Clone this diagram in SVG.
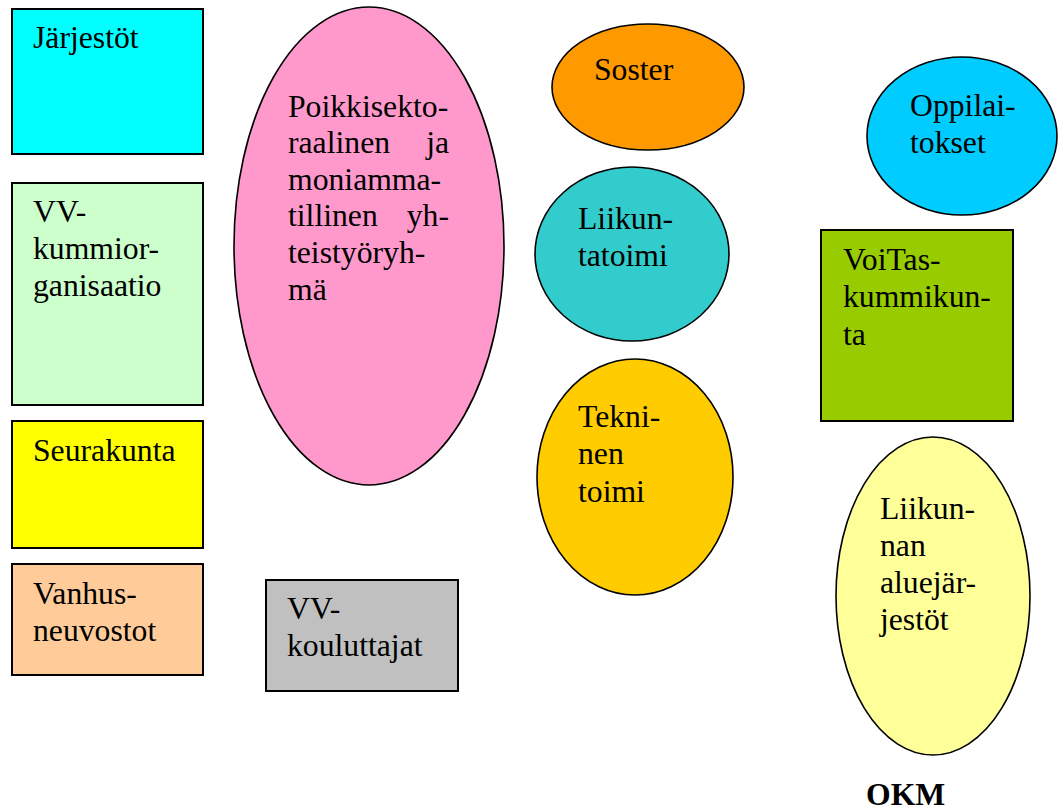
<svg xmlns="http://www.w3.org/2000/svg" width="1058" height="807" viewBox="0 0 1058 807">
<style>
.n{stroke:#000;stroke-width:2}
.e{stroke:#000;stroke-width:1.6}
.b{font-weight:bold}
</style>
<rect width="1058" height="807" fill="#fff"/>
<g id="connectors"/>
<g font-family="Liberation Serif, Times New Roman, DejaVu Serif, serif" font-size="31.7" fill="#000">
<g id="jarjestot"><rect class="n" x="12" y="9" width="191" height="145" fill="#00FFFF"/><text x="33" y="48">Järjestöt</text></g>
<g id="vv-kummiorganisaatio"><rect class="n" x="12" y="183" width="191" height="222" fill="#CCFFCC"/><text x="33" y="222">VV-</text><text x="33" y="259">kummior-</text><text x="33" y="296">ganisaatio</text></g>
<g id="seurakunta"><rect class="n" x="12" y="421" width="191" height="127" fill="#FFFF00"/><text x="33" y="461">Seurakunta</text></g>
<g id="vanhusneuvostot"><rect class="n" x="12" y="564" width="191" height="111" fill="#FFCC99"/><text x="33" y="604">Vanhus-</text><text x="33" y="641">neuvostot</text></g>
<g id="vv-kouluttajat"><rect class="n" x="266" y="580" width="192" height="111" fill="#C0C0C0"/><text x="287" y="619">VV-</text><text x="287" y="656">kouluttajat</text></g>
<g id="poikkisektoraalinen"><ellipse class="e" cx="369" cy="246" rx="135" ry="239" fill="#FF99CC"/>
<text x="288" y="117">Poikkisekto-</text>
<text x="288" y="153">raalinen</text><text x="449" y="153" text-anchor="end">ja</text>
<text x="288" y="190">moniamma-</text>
<text x="288" y="226">tillinen</text><text x="449" y="226" text-anchor="end">yh-</text>
<text x="288" y="263">teistyöryh-</text>
<text x="288" y="300">mä</text></g>
<g id="soster"><ellipse class="e" cx="648" cy="87" rx="96" ry="63" fill="#FF9900"/><text x="594" y="80">Soster</text></g>
<g id="liikuntatoimi"><ellipse class="e" cx="632" cy="254" rx="97" ry="87" fill="#33CCCC"/><text x="578" y="229">Liikun-</text><text x="578" y="266">tatoimi</text></g>
<g id="tekninen-toimi"><ellipse class="e" cx="635" cy="477" rx="98" ry="118" fill="#FFCC00"/><text x="578" y="427">Tekni-</text><text x="578" y="464">nen</text><text x="578" y="502">toimi</text></g>
<g id="oppilaitokset"><ellipse class="e" cx="962" cy="136" rx="95" ry="79" fill="#00CCFF"/><text x="910" y="116">Oppilai-</text><text x="910" y="153">tokset</text></g>
<g id="voitas"><rect class="n" x="821" y="230" width="192" height="191" fill="#99CC00"/><text x="843" y="270">VoiTas-</text><text x="843" y="307">kummikun-</text><text x="843" y="345">ta</text></g>
<g id="liikunnan-aluejarjestot"><ellipse class="e" cx="933" cy="596" rx="97" ry="159" fill="#FFFF99"/><text x="880" y="519">Liikun-</text><text x="880" y="556">nan</text><text x="880" y="593">aluejär-</text><text x="880" y="630">jestöt</text></g>
<g id="okm"><text class="b" x="866" y="805">OKM</text></g>
</g>
</svg>
